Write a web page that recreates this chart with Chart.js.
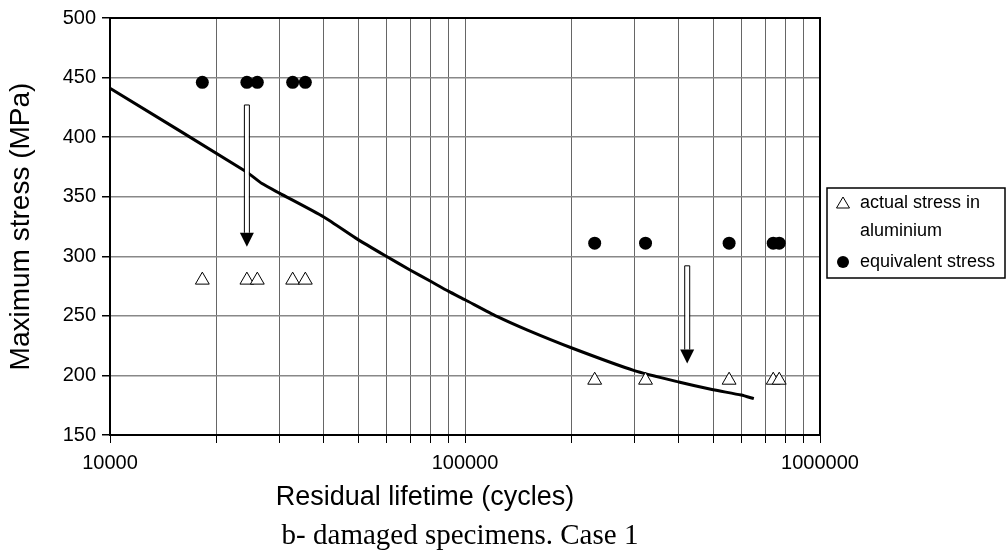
<!DOCTYPE html>
<html>
<head>
<meta charset="utf-8">
<script src="https://cdn.jsdelivr.net/npm/chart.js@4/dist/chart.umd.min.js"></script>
<style>
  html, body { margin: 0; padding: 0; background: #fff; }
  #wrap { position: relative; width: 1008px; height: 555px; }
</style>
</head>
<body>
<div id="wrap"><canvas id="grafico" width="1008" height="555"></canvas></div>
<script>
// datos (vida residual vs tension maxima)
const vidaIzq = [18200, 24300, 26000, 32700, 35500];
const vidaDer = [231900, 322500, 554600, 738300, 767600];
const tensionEquivIzq = [446, 446, 446, 446, 446];
const tensionEquivDer = [311, 311, 311, 311, 311];
const tensionRealIzq = [280, 280, 280, 280, 280];
const tensionRealDer = [196, 196, 196, 196, 196];

// curva S-N
const curvaVida = [10000, 24200, 26800, 30000, 40000, 50000, 60000, 70000, 80000, 90000,
  100000, 123000, 150000, 200000, 300000, 400000, 500000, 600000, 651000];
const curvaTension = [441, 371, 361, 353, 333, 314, 300, 288.5, 279, 270.5,
  263.5, 249.5, 238, 223, 204, 194.5, 188, 183.5, 180.5];

// flechas (vida, tension inicio, tension punta)
const flechaVida = [24300, 422600];
const flechaDesde = [427, 292];
const flechaHasta = [308, 210];

// ticks del eje x
const ticksX = [10000, 20000, 30000, 40000, 50000, 60000, 70000, 80000, 90000,
  100000, 200000, 300000, 400000, 500000, 600000, 700000, 800000, 900000, 1000000];
const etiquetasX = [10000, 100000, 1000000];
const ticksY = [150, 200, 250, 300, 350, 400, 450, 500];

const leyendaTextos = [['actual stress in', 'aluminium'], ['equivalent stress']];
const tituloY = 'Maximum stress (MPa)';
const tituloX = 'Residual lifetime (cycles)';
const pieFigura = 'b- damaged specimens. Case 1';

function puntos(xs, ys) {
  return xs.map((x, i) => ({ x: x, y: ys[i] }));
}

// plugin: marco, flechas, leyenda, titulo x y pie
const extras = {
  id: 'extras',
  afterDatasetsDraw(chart) {
    const ctx = chart.ctx;
    const sx = chart.scales.x, sy = chart.scales.y;
    const a = chart.chartArea;
    ctx.save();
    // flechas de doble linea
    flechaVida.forEach((v, i) => {
      const x = sx.getPixelForValue(v);
      const y0 = sy.getPixelForValue(flechaDesde[i]);
      const y1 = sy.getPixelForValue(flechaHasta[i]);
      const cab = 14;
      ctx.fillStyle = '#fff';
      ctx.fillRect(x - 2, y0, 4, y1 - cab - y0);
      ctx.strokeStyle = '#000';
      ctx.lineWidth = 1;
      ctx.beginPath();
      ctx.moveTo(x - 2.5, y0); ctx.lineTo(x - 2.5, y1 - cab);
      ctx.moveTo(x + 2.5, y0); ctx.lineTo(x + 2.5, y1 - cab);
      ctx.moveTo(x - 2.5, y0); ctx.lineTo(x + 2.5, y0);
      ctx.stroke();
      ctx.fillStyle = '#000';
      ctx.beginPath();
      ctx.moveTo(x - 7, y1 - cab);
      ctx.lineTo(x + 7, y1 - cab);
      ctx.lineTo(x, y1);
      ctx.closePath();
      ctx.fill();
    });
    // marco
    ctx.strokeStyle = '#000';
    ctx.lineWidth = 2;
    ctx.strokeRect(a.left, a.top, a.right - a.left, a.bottom - a.top);

    // leyenda
    const lx = 827, ly = 188, lw = 178, lh = 90;
    ctx.fillStyle = '#fff';
    ctx.fillRect(lx, ly, lw, lh);
    ctx.lineWidth = 1.5;
    ctx.strokeRect(lx, ly, lw, lh);
    ctx.font = '18px "Liberation Sans", Arial, sans-serif';
    ctx.textBaseline = 'middle';
    ctx.fillStyle = '#000';
    const filas = [203, 231, 262];
    ctx.lineWidth = 1;
    ctx.beginPath();
    ctx.moveTo(843, filas[0] - 6);
    ctx.lineTo(849.5, filas[0] + 5);
    ctx.lineTo(836.5, filas[0] + 5);
    ctx.closePath();
    ctx.stroke();
    ctx.fillText(leyendaTextos[0][0], 860, filas[0]);
    ctx.fillText(leyendaTextos[0][1], 860, filas[1]);
    ctx.beginPath();
    ctx.arc(843, filas[2], 6, 0, Math.PI * 2);
    ctx.fill();
    ctx.fillText(leyendaTextos[1][0], 860, filas[2]);

    // titulo del eje x
    ctx.textAlign = 'center';
    ctx.font = '27px "Liberation Sans", Arial, sans-serif';
    ctx.fillText(tituloX, 425, 498);

    // pie de figura
    ctx.font = '29px "Liberation Serif", "Times New Roman", serif';
    ctx.fillText(pieFigura, 460, 536);
    ctx.restore();
  }
};

const fuenteEje = { family: '"Liberation Sans", Arial, sans-serif', size: 20 };
const fuenteTitulo = { family: '"Liberation Sans", Arial, sans-serif', size: 28 };

new Chart(document.getElementById('grafico').getContext('2d'), {
  type: 'scatter',
  data: {
    datasets: [
      {
        label: 'curve',
        data: puntos(curvaVida, curvaTension),
        showLine: true,
        borderColor: '#000',
        borderWidth: 3,
        pointRadius: 0,
        tension: 0.2,
        order: 3
      },
      {
        label: 'actual stress in aluminium',
        data: puntos(vidaIzq, tensionRealIzq).concat(puntos(vidaDer, tensionRealDer)),
        pointStyle: 'triangle',
        pointRadius: 8,
        backgroundColor: '#fff',
        borderColor: '#000',
        borderWidth: 1,
        order: 1
      },
      {
        label: 'equivalent stress',
        data: puntos(vidaIzq, tensionEquivIzq).concat(puntos(vidaDer, tensionEquivDer)),
        pointStyle: 'circle',
        pointRadius: 6.5,
        backgroundColor: '#000',
        borderColor: '#000',
        borderWidth: 0,
        order: 2
      }
    ]
  },
  options: {
    responsive: false,
    animation: false,
    layout: { padding: { top: 18, right: 188, left: 0, bottom: 0 } },
    plugins: {
      legend: { display: false },
      tooltip: { enabled: false }
    },
    scales: {
      x: {
        type: 'logarithmic',
        min: 10000,
        max: 1000000,
        afterBuildTicks(scale) {
          scale.ticks = ticksX.map(v => ({ value: v }));
        },
        afterFit(scale) { scale.height = 120; },
        ticks: {
          autoSkip: false,
          maxRotation: 0,
          padding: 8,
          color: '#000',
          font: fuenteEje,
          callback(v) { return etiquetasX.includes(v) ? String(v) : ''; }
        },
        grid: { color: '#666', lineWidth: 1, tickLength: 8, tickColor: '#000' },
        border: { color: '#000', width: 2 },
        title: { display: false }
      },
      y: {
        min: 150,
        max: 500,
        afterBuildTicks(scale) {
          scale.ticks = ticksY.map(v => ({ value: v }));
        },
        afterFit(scale) { scale.width = 110; },
        ticks: { padding: 6, color: '#000', font: fuenteEje },
        grid: { color: '#888', lineWidth: 1.5, tickLength: 8, tickColor: '#000' },
        border: { color: '#000', width: 2 },
        title: {
          display: true, text: tituloY, color: '#000', font: fuenteTitulo,
          padding: { top: 4, bottom: 0 }
        }
      }
    }
  },
  plugins: [extras]
});
</script>
</body>
</html>
